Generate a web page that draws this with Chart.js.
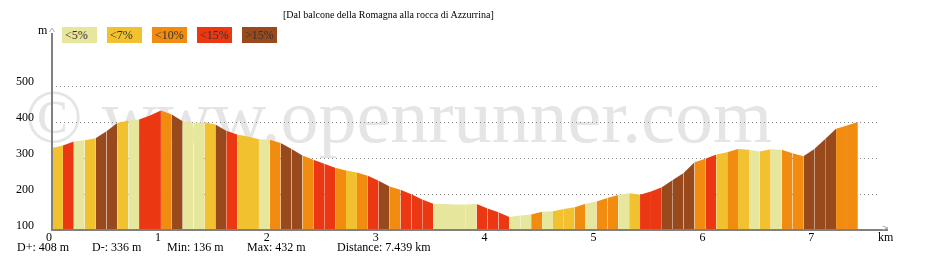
<!DOCTYPE html>
<html>
<head>
<meta charset="utf-8">
<script src="https://cdn.jsdelivr.net/npm/chart.js@4.4.1/dist/chart.umd.min.js"></script>
<style>
  body { margin: 0; background: #fff; }
  #wrap { position: relative; width: 928px; height: 263px; overflow: hidden; font-family: 'Liberation Serif', 'Times New Roman', serif; }
  #wrap canvas { position: absolute; left: 0; top: 0; }
  .txt { position: absolute; white-space: nowrap; color: #000; font-size: 12px; line-height: 12px; }
  .watermark { position: absolute; left: 25px; top: 78px; font-size: 76px; line-height: 76px; color: #e5e5e5; white-space: nowrap; }
  .leg { position: absolute; top: 27px; width: 35px; height: 16px; line-height: 16px; font-size: 12px; padding-left: 3px; box-sizing: border-box; color: #333; }
</style>
</head>
<body>
<div id="wrap">
  <div class="watermark">© www.openrunner.com</div>
  <canvas id="profile" width="928" height="263"></canvas>
  <div class="txt" style="left:283px; top:10px; font-size:10px; line-height:10px;">[Dal balcone della Romagna alla rocca di Azzurrina]</div>
  <div class="txt" style="left:38px; top:24px;">m</div>
  <div class="txt" style="left:878px; top:231px;">km</div>
  <div id="legend"></div>
  <div id="stats"></div>
</div>
<script>
// profilo altimetrico: distanza (km) e quota (m) ogni 100 m
const distKm = [0, 0.1, 0.2, 0.3, 0.4, 0.5, 0.6, 0.7, 0.8, 0.9,
  1.0, 1.1, 1.2, 1.3, 1.4, 1.5, 1.6, 1.7, 1.8, 1.9,
  2.0, 2.1, 2.2, 2.3, 2.4, 2.5, 2.6, 2.7, 2.8, 2.9,
  3.0, 3.1, 3.2, 3.3, 3.4, 3.5, 3.6, 3.7, 3.8, 3.9,
  4.0, 4.1, 4.2, 4.3, 4.4, 4.5, 4.6, 4.7, 4.8, 4.9,
  5.0, 5.1, 5.2, 5.3, 5.4, 5.5, 5.6, 5.7, 5.8, 5.9,
  6.0, 6.1, 6.2, 6.3, 6.4, 6.5, 6.6, 6.7, 6.8, 6.9,
  7.0, 7.1, 7.2, 7.3, 7.4];

const elevation = [328, 335, 346, 349, 355, 374, 397, 404, 407, 418,
  432, 421, 402, 397, 399, 393, 376, 365, 360, 352,
  351, 342, 325, 307, 295, 284, 273, 265, 260, 251,
  237, 221, 212, 199, 185, 173, 172, 171, 171, 172,
  160, 149, 136, 140, 143, 151, 152, 158, 163, 173,
  179, 189, 197, 202, 198, 207, 219, 239, 258, 288,
  298, 310, 316, 325, 323, 318, 324, 323, 313, 305,
  325, 353, 381, 390, 400];

// classe di pendenza di ogni tratto (indice in slopeLabels)
const slopeClass = [1, 3, 0, 1, 4, 4, 1, 0, 3, 3,
  2, 4, 0, 0, 1, 4, 3, 1, 1, 0,
  2, 4, 4, 2, 3, 3, 2, 1, 2, 3,
  4, 2, 3, 3, 3, 0, 0, 0, 0, 3,
  3, 3, 0, 0, 2, 0, 1, 1, 2, 0,
  2, 2, 0, 1, 3, 3, 4, 4, 4, 2,
  3, 1, 2, 1, 0, 1, 0, 2, 2, 4,
  4, 4, 2, 2];

const slopeLabels = ['<5%', '<7%', '<10%', '<15%', '>15%'];
const slopeColors = ['#E6E69C', '#F2C12F', '#F18C11', '#EC3812', '#994A1C'];

const yTicks = [100, 200, 300, 400, 500];
const xTicks = [0, 1, 2, 3, 4, 5, 6, 7];

const stats = ['D+: 408 m', 'D-: 336 m', 'Min: 136 m', 'Max: 432 m', 'Distance: 7.439 km'];
const statsLeft = [17, 92, 167, 247, 337];

const fontFamily = "'Liberation Serif', 'Times New Roman', serif";

// legenda pendenze
const legend = document.getElementById('legend');
slopeLabels.forEach((lab, i) => {
  const d = document.createElement('div');
  d.className = 'leg';
  d.style.left = (62 + i * 45) + 'px';
  d.style.background = slopeColors[i];
  d.textContent = lab;
  legend.appendChild(d);
});

// riga dei totali
const statsBox = document.getElementById('stats');
stats.forEach((s, i) => {
  const d = document.createElement('div');
  d.className = 'txt';
  d.style.left = statsLeft[i] + 'px';
  d.style.top = '241px';
  d.textContent = s;
  statsBox.appendChild(d);
});

// assi con frecce
const axisLines = {
  id: 'axisLines',
  afterDatasetsDraw(chart) {
    const { ctx, chartArea: a } = chart;
    ctx.save();
    ctx.strokeStyle = '#808080';
    ctx.lineWidth = 2;
    ctx.beginPath();
    ctx.moveTo(a.left, a.top + 1);
    ctx.lineTo(a.left, a.bottom);
    ctx.lineTo(888, a.bottom);
    ctx.stroke();
    ctx.strokeStyle = '#a4abbd';
    ctx.lineWidth = 1;
    ctx.beginPath();
    ctx.moveTo(a.left - 2.5, a.top);
    ctx.lineTo(a.left, a.top - 4);
    ctx.lineTo(a.left + 2.5, a.top);
    ctx.moveTo(882.5, a.bottom - 4);
    ctx.lineTo(888, a.bottom - 2);
    ctx.lineTo(882.5, a.bottom);
    ctx.stroke();
    ctx.restore();
  }
};

const points = distKm.map((d, i) => ({ x: d, y: elevation[i] }));

new Chart(document.getElementById('profile'), {
  type: 'line',
  data: {
    datasets: [{
      data: points,
      fill: 'start',
      borderWidth: 0,
      pointRadius: 0,
      tension: 0,
      backgroundColor: slopeColors[0],
      segment: {
        // maiuscolo/minuscolo alternato: un poligono per tratto
        backgroundColor: c => {
          const col = slopeColors[slopeClass[c.p0DataIndex]];
          return c.p0DataIndex % 2 ? col.toLowerCase() : col;
        }
      }
    }]
  },
  options: {
    responsive: false,
    animation: false,
    events: [],
    layout: { padding: { top: 32, right: 50, left: 0, bottom: 0 } },
    plugins: { legend: { display: false }, tooltip: { enabled: false } },
    scales: {
      x: {
        type: 'linear',
        min: 0,
        max: 7.585,
        afterBuildTicks: s => { s.ticks = xTicks.map(v => ({ value: v })); },
        afterFit: s => { s.height = 33; },
        grid: { display: false },
        border: { display: false },
        ticks: { color: '#000', font: { family: fontFamily, size: 12 }, padding: -7, labelOffset: -3, maxRotation: 0, autoSkip: false }
      },
      y: {
        min: 100,
        max: 650,
        afterBuildTicks: s => { s.ticks = yTicks.map(v => ({ value: v })); },
        afterFit: s => { s.width = 52; },
        grid: {
          color: c => (c.tick && c.tick.value === 100) ? 'rgba(0,0,0,0)' : '#8a8a8a',
          lineWidth: 1,
          drawTicks: false
        },
        border: { display: false, dash: [1, 3] },
        ticks: { color: '#000', font: { family: fontFamily, size: 12 }, padding: 18, labelOffset: -4 }
      }
    }
  },
  plugins: [axisLines]
});
</script>
</body>
</html>
